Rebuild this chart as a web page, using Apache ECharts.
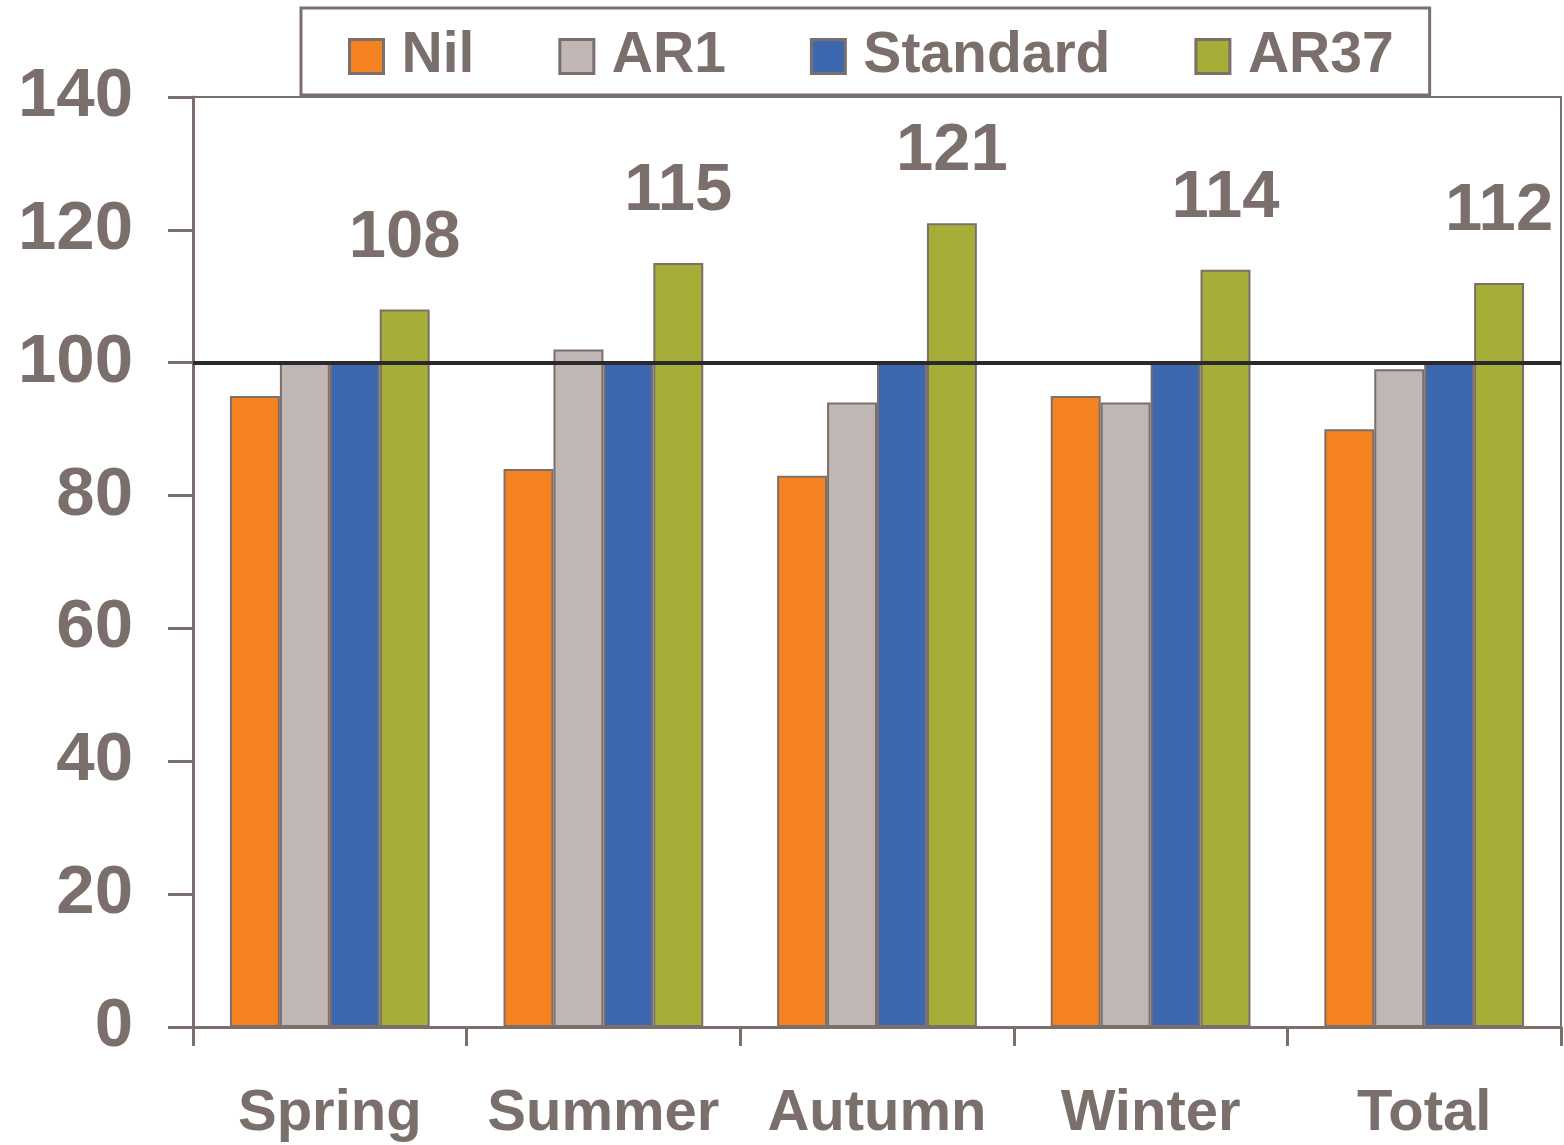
<!DOCTYPE html>
<html>
<head>
<meta charset="utf-8">
<script src="https://cdn.jsdelivr.net/npm/echarts@6/dist/echarts.min.js"></script>
<style>
  html, body { margin: 0; padding: 0; background: #fff; }
  #bar { width: 1564px; height: 1145px; }
</style>
</head>
<body>
<div id="bar"></div>
<script>
var seasons = ['Spring', 'Summer', 'Autumn', 'Winter', 'Total']
var nilData = [95, 84, 83, 95, 90]
var ar1Data = [100, 102, 94, 94, 99]
var standardData = [100, 100, 100, 100, 100]
var ar37Data = [108, 115, 121, 114, 112]
var baseline = 100

var textColor = '#7b6f6b'
var edgeColor = '#7b6f6b'
var font = '"Liberation Sans", Arial, sans-serif'

function makeSeries(name, data, color) {
    return {
        name: name,
        type: 'bar',
        data: data,
        barGap: 0,
        barCategoryGap: '27%',
        itemStyle: {
            color: color,
            borderColor: edgeColor,
            borderWidth: 2
        }
    }
}

window.onload = function() {
    var chart = echarts.init(document.getElementById('bar'));

    var ar37 = makeSeries('AR37', ar37Data, '#a6ae38')
    ar37.label = {
        show: true,
        position: 'top',
        distance: 38,
        fontSize: 67,
        fontWeight: 'bold',
        fontFamily: font,
        color: textColor
    }
    // reference line at 100 drawn over the bars
    ar37.markLine = {
        silent: true,
        symbol: 'none',
        label: { show: false },
        lineStyle: { color: '#2a2a2e', width: 4, type: 'solid' },
        data: [{ yAxis: baseline }],
        z: 10
    }

    var option = {
        backgroundColor: '#fff',
        animation: false,
        legend: {
            left: 301,
            top: 8,
            padding: [20, 36, 10, 47],
            itemGap: 84,
            itemWidth: 34,
            itemHeight: 34,
            borderColor: edgeColor,
            borderWidth: 3,
            icon: 'rect',
            itemStyle: { borderColor: edgeColor, borderWidth: 3 },
            textStyle: {
                fontSize: 57,
                fontWeight: 'bold',
                fontFamily: font,
                color: textColor,
                lineHeight: 56,
                padding: [0, 0, 0, 13]
            },
            data: ['Nil', 'AR1', 'Standard', 'AR37']
        },
        grid: {
            left: 193,
            right: 3,
            top: 97,
            bottom: 118,
            show: true,
            borderColor: edgeColor,
            borderWidth: 2
        },
        xAxis: {
            type: 'category',
            data: seasons,
            axisLine: { lineStyle: { color: edgeColor, width: 3 } },
            axisTick: { show: true, interval: 0, length: 19, lineStyle: { color: edgeColor, width: 3 } },
            axisLabel: {
                interval: 0,
                margin: 58,
                fontSize: 58,
                fontWeight: 'bold',
                fontFamily: font,
                color: textColor
            }
        },
        yAxis: {
            type: 'value',
            min: 0,
            max: 140,
            interval: 20,
            splitLine: { show: false },
            axisLine: { show: true, lineStyle: { color: edgeColor, width: 3 } },
            axisTick: { show: true, length: 25, lineStyle: { color: edgeColor, width: 3 } },
            axisLabel: {
                margin: 60,
                fontSize: 69,
                fontWeight: 'bold',
                fontFamily: font,
                color: textColor
            }
        },
        series: [
            makeSeries('Nil', nilData, '#f58220'),
            makeSeries('AR1', ar1Data, '#c0b6b3'),
            makeSeries('Standard', standardData, '#3d68b0'),
            ar37
        ]
    };

    chart.setOption(option);
}
</script>
</body>
</html>
